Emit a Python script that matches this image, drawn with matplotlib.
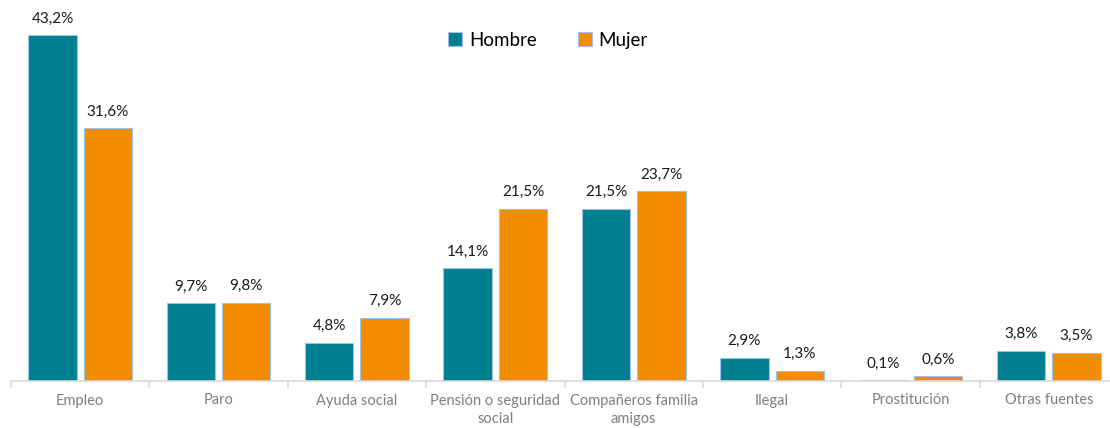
import numpy as np
import matplotlib.pyplot as plt

# datos
categorias = ["Empleo", "Paro", "Ayuda social", "Pensión o seguridad\nsocial",
              "Compañeros familia\namigos", "Ilegal", "Prostitución", "Otras fuentes"]
hombre = [43.2, 9.7, 4.8, 14.1, 21.5, 2.9, 0.1, 3.8]
mujer = [31.6, 9.8, 7.9, 21.5, 23.7, 1.3, 0.6, 3.5]

c_hombre = "#007F90"
c_mujer = "#F28C00"
borde = "#9DC3E6"

plt.rcParams['font.family'] = ['Lato', 'DejaVu Sans']

fig = plt.figure(figsize=(11.10, 4.28), dpi=100)
ax = fig.add_axes([11 / 1110, 47 / 428, 1107 / 1110, 368 / 428])

x = np.arange(len(categorias))
w = 0.35
b1 = ax.bar(x - 0.2, hombre, w, color=c_hombre, edgecolor=borde, linewidth=0.8, label="Hombre")
b2 = ax.bar(x + 0.2, mujer, w, color=c_mujer, edgecolor=borde, linewidth=0.8, label="Mujer")

for barras, vals in ((b1, hombre), (b2, mujer)):
    ax.bar_label(barras, labels=[f"{v:.1f}%".replace(".", ",") for v in vals],
                 padding=7, fontsize=11, color="#1a1a1a")

ax.set_xlim(-0.5, len(categorias) - 0.5)
ax.set_ylim(0, 46)
ax.set_yticks([])
for s in ("top", "right", "left"):
    ax.spines[s].set_visible(False)
ax.spines["bottom"].set_color("#D9D9D9")
ax.spines["bottom"].set_linewidth(1.2)

ax.set_xticks(x)
ax.set_xticklabels(categorias, fontsize=10.5, color="#7F7F7F", linespacing=1.45)
ax.tick_params(axis="x", which="major", length=0, pad=9)
ax.set_xticks(np.arange(len(categorias) + 1) - 0.5, minor=True)
ax.tick_params(axis="x", which="minor", length=5, color="#D9D9D9", width=1.2)

ax.legend(loc="upper center", bbox_to_anchor=(0.485, 0.995), ncol=2, frameon=False,
          fontsize=13.5, handlelength=0.75, handleheight=0.75, handletextpad=0.35,
          columnspacing=2.2)

fig.savefig("out.png", dpi=100)
